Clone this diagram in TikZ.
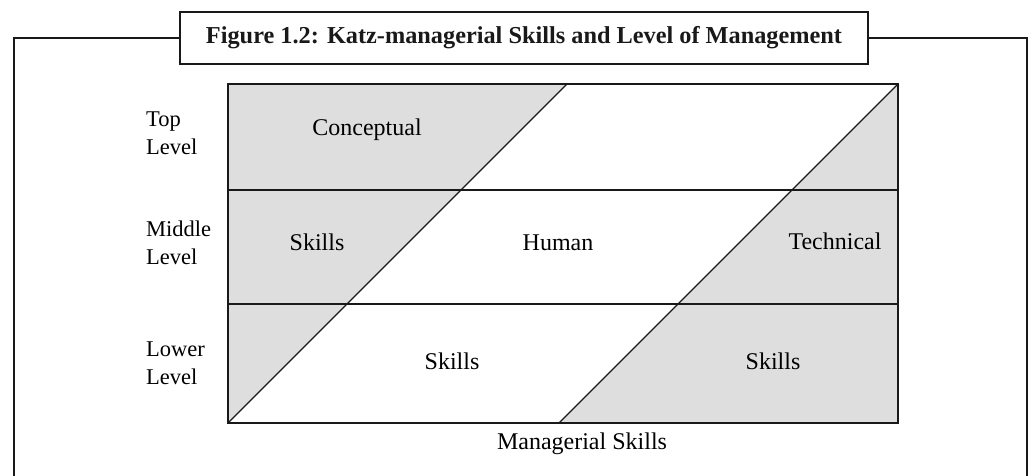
\documentclass[tikz,border=0pt]{standalone}
\usepackage{fontspec}
\setmainfont{Liberation Serif}
\begin{document}
\begin{tikzpicture}[x=1pt,y=-1pt,
  lbl/.style={font=\fontsize{24}{28}\selectfont, inner sep=0pt, anchor=base},
  side/.style={lbl, align=left, anchor=base west, font=\fontsize{22.5}{28}\selectfont},
  frame/.style={line width=2pt, black!90},
  diag/.style={line width=1.4pt, black!90},
  shade/.style={fill=black!13}]
\useasboundingbox (0,0) rectangle (1031,476);
% outer frame
\coordinate (fl) at (14,476);
\coordinate (fr) at (1027,476);
\node[draw, frame, minimum width=688pt, minimum height=52pt, inner sep=0pt,
      font=\fontsize{24.3}{26}\selectfont\bfseries] (title) at (524,38)
      {Figure 1.2: Katz-managerial Skills and Level of Management};
\draw[frame] (fl) |- (title.west);
\draw[frame] (fr) |- (title.east);
% chart
\coordinate (A) at (228,84);
\coordinate (B) at (898,84);
\coordinate (C) at (898,423);
\coordinate (D) at (228,423);
\coordinate (P) at (567,84);
\coordinate (Q) at (559,423);
\fill[shade] (A) -- (P) -- (D) -- cycle;
\fill[shade] (B) -- (C) -- (Q) -- cycle;
\draw[diag] (228,190) -- (898,190);
\draw[diag] (228,304) -- (898,304);
\draw[diag] (D) -- (P);
\draw[diag] (Q) -- (B);
\draw[frame] (A) rectangle (C);
% labels (base anchor = baseline of the last line)
\node[side] (top) at (146,154) {Top\\Level};
\node[side] (mid) at (146,264) {Middle\\Level};
\node[side] (low) at (146,384) {Lower\\Level};
\node[lbl] (conc) at (367,136) {Conceptual};
\node[lbl] (sk1) at (317,250) {Skills};
\node[lbl] (hum) at (558,250) {Human};
\node[lbl] (tech) at (835,249) {Technical};
\node[lbl] (sk2) at (452,369) {Skills};
\node[lbl] (sk3) at (773,369) {Skills};
\node[lbl] (ms) at (582,449) {Managerial Skills};
\end{tikzpicture}
\end{document}
